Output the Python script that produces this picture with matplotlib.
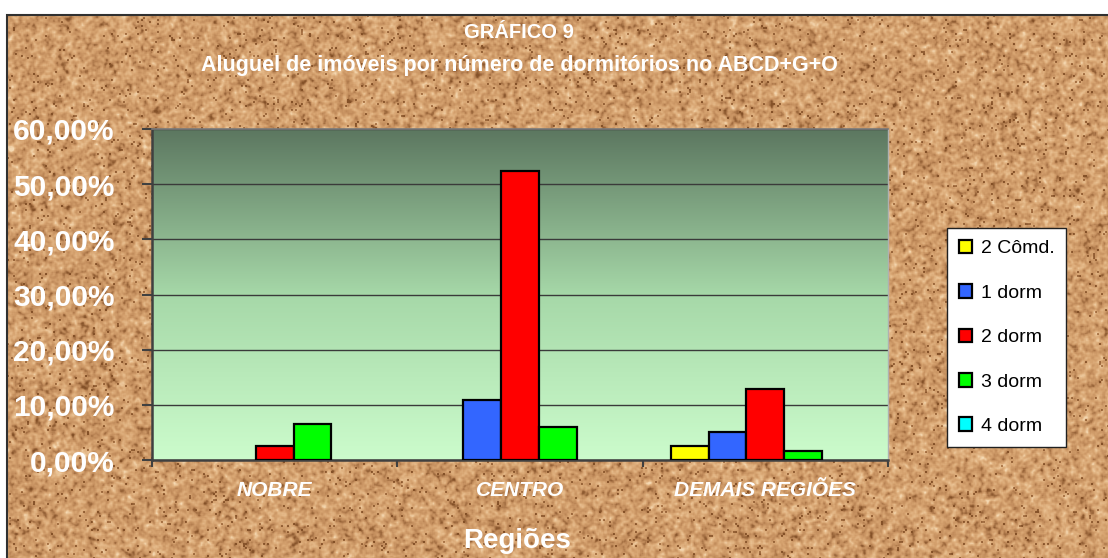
import numpy as np
import matplotlib
matplotlib.use("Agg")
import matplotlib.pyplot as plt
from matplotlib.colors import LinearSegmentedColormap
from matplotlib.patches import Rectangle, Patch

# ---- data ----
categories = ["NOBRE", "CENTRO", "DEMAIS REGIÕES"]
series_names = ["2 Cômd.", "1 dorm", "2 dorm", "3 dorm", "4 dorm"]
v_2comd = [0.0, 0.0, 0.026]
v_1dorm = [0.0, 0.109, 0.051]
v_2dorm = [0.026, 0.523, 0.128]
v_3dorm = [0.066, 0.059, 0.016]
v_4dorm = [0.0, 0.0, 0.0]
series_values = [v_2comd, v_1dorm, v_2dorm, v_3dorm, v_4dorm]
series_colors = ["#FFFF00", "#3366FF", "#FF0000", "#00FF00", "#00FFFF"]
yticks = [0.0, 0.1, 0.2, 0.3, 0.4, 0.5, 0.6]
ytick_labels = ["0,00%", "10,00%", "20,00%", "30,00%", "40,00%", "50,00%", "60,00%"]
title1 = "GRÁFICO 9"
title2 = "Aluguel de imóveis por número de dormitórios no ABCD+G+O"
xlabel = "Regiões"

FONT = "Liberation Sans"
W, H = 1108, 558
fig = plt.figure(figsize=(W / 100, H / 100), dpi=100)
fig.patch.set_facecolor("white")

# ---- cork background texture (decorative) ----
left_px, top_px = 7, 15
bw, bh = W - left_px, H - top_px
yy, xx = np.mgrid[0:bh, 0:bw].astype(float)

def hashn(x, y, s):
    v = np.sin(x * 12.9898 + y * 78.233 + s * 37.719) * 43758.5453
    return v - np.floor(v)

def box_blur(a, r):
    out = np.zeros_like(a)
    n = 0
    for dy in range(-r, r + 1):
        for dx in range(-r, r + 1):
            out += np.roll(np.roll(a, dy, axis=0), dx, axis=1)
            n += 1
    return out / n

n1 = hashn(np.floor(xx / 2), np.floor(yy / 2), 1.0)
n2 = box_blur(hashn(np.floor(xx / 3), np.floor(yy / 3), 2.0), 2)
n3 = hashn(np.floor(xx / 2), np.floor(yy / 2), 3.0)
t = 0.45 * box_blur(n1, 1) + 0.55 * (n2 - n2.min()) / (n2.max() - n2.min())
t = np.where(n3 > 0.97, t * 0.4, t)
cork = LinearSegmentedColormap.from_list(
    "cork",
    [(0.0, (0.52, 0.32, 0.16)), (0.3, (0.76, 0.55, 0.36)), (0.55, (0.84, 0.64, 0.44)),
     (0.8, (0.90, 0.73, 0.54)), (1.0, (0.96, 0.85, 0.70))])
bg = fig.add_axes([left_px / W, 0, bw / W, bh / H], zorder=-10)
bg.imshow(t, cmap=cork, aspect="auto", interpolation="nearest", vmin=0.15, vmax=0.85)
bg.set_axis_off()
fig.add_artist(Rectangle((left_px / W, -0.01), 1.0, bh / H + 0.01, transform=fig.transFigure,
                         fill=False, edgecolor="#303030", linewidth=1.5, zorder=5))

# ---- main axes ----
ax = fig.add_axes([152 / W, 1 - 460 / H, (888 - 152) / W, (460 - 129) / H])
ax.patch.set_alpha(0)
grad = LinearSegmentedColormap.from_list("g", ["#CCFCCC", "#A6D8A8", "#5C7760"])
ax.imshow(np.linspace(0, 1, 256).reshape(-1, 1), cmap=grad, origin="lower",
          extent=(0, 1, 0, 1), transform=ax.transAxes, aspect="auto", zorder=0)

x = np.arange(len(categories))
bw_ = 1 / 6.5
for i, (name, vals, col) in enumerate(zip(series_names, series_values, series_colors)):
    bars = ax.bar(x + (i - 2) * bw_, vals, width=bw_, color=col, edgecolor="black",
                  linewidth=1.6, label=name, zorder=3)
    for p in bars.patches:
        if p.get_height() == 0:
            p.set_visible(False)

ax.set_xlim(-0.5, 2.5)
ax.set_ylim(0, 0.6)
ax.set_yticks(yticks)
ax.set_yticklabels(ytick_labels, fontsize=21.5, fontweight="bold", color="white", family=FONT)
ax.yaxis.grid(True, color="#3a3a3a", linewidth=1.0, zorder=1)
ax.set_axisbelow(True)
ax.tick_params(axis="y", direction="out", length=7, width=1.5, color="#404040", pad=20)

ax.set_xticks(x)
ax.set_xticklabels(categories, fontsize=15, fontweight="bold", fontstyle="italic",
                   color="white", family=FONT)
ax.tick_params(axis="x", which="major", length=0, pad=15)
ax.set_xticks([-0.5, 0.5, 1.5, 2.5], minor=True)
ax.tick_params(axis="x", which="minor", direction="out", length=5, width=1.5, color="#404040")

for s in ["left", "bottom"]:
    ax.spines[s].set_color("#404040")
    ax.spines[s].set_linewidth(1.8)
ax.spines["top"].set_color("#7a7a7a")
ax.spines["top"].set_linewidth(1.2)
ax.spines["right"].set_color("#b0b0b0")
ax.spines["right"].set_linewidth(1.0)

# ---- titles ----
fig.text(519 / W, 1 - 33 / H, title1, ha="center", va="center", fontsize=14.5,
         fontweight="bold", color="white", family=FONT)
fig.text(519 / W, 1 - 66 / H, title2, ha="center", va="center", fontsize=15.5,
         fontweight="bold", color="white", family=FONT)
fig.text(517 / W, 1 - 541 / H, xlabel, ha="center", va="center", fontsize=20,
         fontweight="bold", color="white", family=FONT)

# ---- legend ----
handles = [Patch(facecolor=c, edgecolor="black", linewidth=1.6) for c in series_colors]
leg = fig.legend(handles, series_names, loc="upper left", bbox_to_anchor=(947 / W, 1 - 228 / H),
                 bbox_transform=fig.transFigure, frameon=True, fancybox=False,
                 prop={"family": FONT, "size": 14}, handlelength=0.7, handleheight=0.7,
                 handletextpad=0.45, labelspacing=1.38, borderpad=0.6, borderaxespad=0)
leg.get_frame().set_edgecolor("#202020")
leg.get_frame().set_linewidth(1.0)
leg.get_frame().set_facecolor("white")
leg.get_frame().set_alpha(1)

fig.savefig("out.png", dpi=100)
